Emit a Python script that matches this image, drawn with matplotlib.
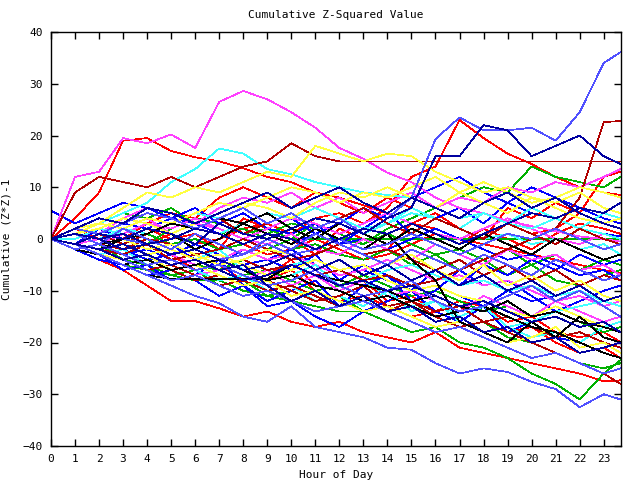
import matplotlib
matplotlib.use("Agg")
import matplotlib.pyplot as plt
import numpy as np

# hour of day for every sample (last sample is the end of the day's data)
hours = list(range(24)) + [23.7]

# cumulative (Z*Z)-1 per walk, one list per hour, grouped by line colour
red_walks = [
    [0, 4, 9, 19, 19.5, 17, 15.8, 15, 13.7, 12, 11, 9, 8, 6.5, 5, 3, 2, 0, -1, -2, -3, -4, -5, -6, -6.5],
    [0, 1, -1, 0, 2, 1, -1, 0, 2, 3, 1, 4, 5, 3, 6, 12, 14, 23, 19.5, 16.5, 14.5, 12, 10, 9, 8.5],
    [0, -2, -4, -6, -9, -12, -12, -13.4, -15, -14, -16, -17, -16, -18, -19, -20, -18, -21, -22, -23, -24, -25, -26, -27.5, -27.3],
    [0, -1, 1, 3, 2, 0, 1, -2, 4, 2, 0, -3, 2, 0, -2, 3, 5, 2, 0, 6, 4, 7, 5, 3, 2],
    [0, 2, 0, -2, -4, -3, -6, -5, -8, -7, -4, -9, -10, -8, -12, -11, -14, -12, -13, -16, -15, -18, -19, -18, -19.9],
    [0, -1, -2, 0, 3, 5, 4, 8, 10, 8, 6, 9, 7, 5, 8, 6, 4, 2, 5, 3, 1, 2, 5, 12, 13],
    [0, -1, -3, -2, -4, -6, -5, -7, -9, -8, -6, -10, -12, -11, -13, -15, -14, -13, -16, -18, -17, -20, -22, -21, -23],
    [0, 1, 2, 0, -1, 1, 3, 1, -1, -3, -2, 0, -2, -4, -3, -1, 1, -1, 2, 0, -2, 1, 3, 2, 1],
]
green_walks = [
    [0, -1, -3, -2, -4, -3, -5, -6, -4, -2, 0, 0, 0, 0, 0, 0, 0, 0, 0, 0, 0, 0, 0, 0, 0],
    [0, -1, -3, -5, -6, -7, -8, -8, -10, -11, -12, -13, -14, -14, -16, -18, -17, -20, -21, -23, -26, -28, -31, -26, -23.4],
    [0, 1, 3, 5, 4, 6, 3, 1, 2, 0, -2, -1, -3, -4, -2, -5, -3, -6, -4, -7, -5, -8, -9, -7, -6],
    [0, -1, 0, 1, -1, 2, 4, 3, 1, 2, 0, 3, 1, -1, 2, 4, 6, 8, 10, 9, 14, 12, 11, 10, 12],
    [0, -2, -1, -4, -5, -7, -6, -9, -8, -11, -10, -12, -11, -14, -13, -12, -15, -17, -16, -19, -20, -22, -24, -25, -24],
    [0, -1, 0, 2, 1, -1, 0, -2, -1, 1, 3, 2, 0, -1, 1, -1, -3, -2, -4, -2, -5, -3, -6, -4, -5],
    [0, -1, -2, -3, -5, -4, -6, -5, -7, -6, -8, -10, -9, -7, -9, -11, -10, -12, -14, -13, -15, -14, -16, -18, -17],
]
blue_walks = [
    [5.5, 3, 5, 7, 6, 4, 6, 3, 5, 2, 4, 1, 3, 6, 4, 8, 10, 12, 9, 7, 10, 8, 6, 4, 3],
    [0, -2, -3, -6, -5, -8, -7, -4, -9, -12, -10, -8, -13, -9, -7, -12, -10, -6, -9, -8, -11, -14, -12, -10, -9],
    [0, 1, -1, -3, -2, -1, -4, -2, 0, 2, 1, 3, -1, 2, 5, 1, 4, 6, 3, 7, 5, 4, 2, 1, 0.5],
    [0, -1, 2, 0, -2, -4, -3, -5, -2, -4, -6, -3, -8, -5, -7, -10, -6, -9, -5, -7, -4, -6, -3, -5, -4],
    [0, -2, -4, -5, -7, -6, -8, -11, -9, -13, -12, -15, -17, -14, -12, -10, -14, -16, -13, -18, -16, -19, -20, -22, -23],
    [0, -1, -3, -2, -4, -3, -1, -3, -5, -4, -2, -5, -7, -6, -8, -10, -9, -11, -13, -10, -12, -11, -9, -12, -11],
    [0, 2, 1, 3, 2, 4, 3, 1, 3, 1, -1, 1, -1, 0, -2, 0, 2, 0, -2, -4, -3, -5, -7, -6, -8],
]
magenta_walks = [
    [0, 12, 13, 19.5, 18.5, 20.2, 17.6, 26.5, 28.6, 27, 24.5, 21.5, 17.6, 15.5, 12.8, 11, 8, 6, 5, 3.5, 2.5, 1.5, 0.5, 0, -0.5],
    [0, 1, 3, 2, 4, 1, 3, 2, 0, -1, 1, -2, -3, 0, -2, -4, -1, -3, -5, -2, -4, -3, -6, -5, -7],
    [0, -1, -2, -4, -3, -5, -7, -6, -8, -6, -9, -7, -10, -8, -11, -10, -12, -14, -11, -13, -15, -12, -14, -16, -15],
    [0, 2, 1, 4, 6, 5, 3, 6, 8, 7, 9, 6, 8, 5, 7, 9, 6, 8, 7, 10, 9, 11, 10, 12, 13.5],
    [0, -1, 0, -2, -1, -3, -5, -4, -2, -4, -3, -5, -7, -6, -4, -6, -8, -7, -9, -8, -10, -12, -11, -13, -12],
    [0, 1, -1, 1, 3, 2, 4, 2, 0, 2, 4, 3, 1, 3, 5, 3, 1, 0, 2, 4, 2, 0, -1, 1, 0],
]
cyan_walks = [
    [0, 1, 3, 5, 7, 11, 13.5, 17.5, 16.5, 13.5, 12.5, 11, 10, 9, 8.5, 8, 6, 4, 5, 3, 2, 4, 2, 1, 0],
    [0, -1, -3, -2, -5, -4, -6, -8, -7, -10, -9, -12, -11, -13, -10, -14, -12, -15, -13, -17, -16, -14, -13, -12, -11],
    [0, 1, 0, 2, 1, 3, 5, 4, 6, 3, 5, 2, 4, 1, 3, 6, 4, 2, 5, 3, 6, 4, 2, 5, 4],
    [0, -1, -2, -1, -3, -5, -4, -2, -6, -8, -7, -5, -9, -8, -11, -13, -12, -16, -18, -17, -19, -18, -20, -17, -16],
    [0, -1, -2, -4, -3, -2, -4, -6, -5, -7, -5, -4, -6, -8, -6, -5, -7, -9, -8, -10, -9, -11, -10, -12, -13],
    [0, 0, 2, 1, -1, 0, 2, 1, 3, 5, 4, 6, 4, 2, 3, 5, 4, 2, 0, 1, -1, 0, -2, -1, -3],
]
darkred_walks = [
    [0, 9, 12, 11, 10, 12, 10, 12, 14, 15, 18.5, 16, 15, 15, 15, 15, 15, 15, 15, 15, 15, 15, 15, 15, 15],
    [0, -1, -2, -3, -1, -4, -3, -5, -4, -6, -5, -7, -6, -8, -7, -9, -8, -6, -4, -2, 0, 2, 8, 22.6, 22.8],
    [0, 2, 1, -1, 1, 3, 2, 4, 1, 3, 5, 2, 4, 6, 3, 1, 4, 2, 0, 3, 1, -1, 2, 0, -1],
    [0, -2, -3, -5, -4, -6, -8, -7, -9, -8, -10, -12, -11, -9, -13, -12, -14, -13, -16, -15, -17, -19, -18, -20, -21],
    [0, 1, -1, -2, 0, -1, -3, -2, 0, -2, -4, -3, -1, -3, -2, -4, -6, -4, -7, -5, -8, -6, -9, -7, -8],
    [0, -1, -3, -4, -6, -5, -7, -9, -8, -10, -9, -11, -13, -12, -14, -12, -15, -17, -16, -18, -20, -22, -24, -26, -28],
]
yellow_walks = [
    [0, 1, 3, 6, 9, 8, 10, 9, 11, 13, 12, 18, 16.5, 15, 16.5, 16, 13, 11, 9, 10, 8, 7, 9, 6, 5],
    [0, -1, 1, 0, -2, -1, -3, -5, -4, -2, -3, -6, -4, -7, -5, -3, -6, -8, -5, -9, -7, -10, -8, -11, -12],
    [0, 1, 2, 4, 3, 1, 3, 5, 7, 6, 4, 7, 9, 8, 10, 8, 6, 9, 7, 5, 8, 6, 4, 3, 4],
    [0, -1, -3, -4, -3, -6, -5, -7, -9, -8, -11, -10, -12, -14, -13, -15, -17, -16, -18, -20, -19, -17, -21, -20, -22],
    [0, -1, -2, -1, -3, -2, -4, -3, -5, -7, -6, -4, -6, -5, -8, -10, -9, -11, -12, -14, -15, -13, -15, -17, -18],
    [0, 2, 3, 2, 4, 3, 5, 7, 6, 8, 10, 9, 7, 9, 8, 10, 12, 9, 11, 9, 7, 8, 10, 9, 8],
]
black_walks = [
    [0, -1, -3, -5, -7, -7.7, -7.7, -7.7, -7.7, -7.7, -5, -7, -8, -9, -10, -12, -11, -13, -14, -12, -15, -14, -16, -17, -18],
    [0, 1, -1, 0, 2, 1, -2, 0, 3, 1, -1, 2, 0, -2, 1, -4, -8, -16, -18, -20, -16, -19, -15, -19, -20],
    [0, -1, -2, 0, 1, 3, 2, 4, 3, 5, 2, 0, 3, 1, -1, 2, 0, -2, 1, -1, -3, 0, -2, -4, -3],
    [0, -2, -3, -5, -4, -6, -5, -4, -6, -8, -7, -9, -10, -12, -11, -13, -15, -14, -13, -15, -17, -18, -20, -22, -23],
]
slate_walks = [
    [0, 2, 1, 3, 5, 4, 2, 4, 6, 3, 5, 2, 4, 1, 4, 8, 19.3, 23.5, 21, 21, 21.5, 19, 24.5, 34, 36.1],
    [0, -1, -3, -5, -7, -9, -11, -12.4, -15, -16, -13, -17, -18, -19, -21, -21.4, -24, -26, -25, -25.7, -27.6, -29, -32.5, -30, -31],
    [0, 1, -1, 2, 0, -2, 1, -1, -3, 0, -2, 1, -1, -3, -5, -2, -4, -6, -3, -5, -7, -4, -6, -8, -7],
    [0, -2, -1, -3, -5, -4, -6, -5, -7, -9, -8, -6, -9, -11, -10, -8, -12, -14, -13, -11, -9, -12, -10, -13, -15],
    [0, -1, 1, 0, -1, -3, -2, -4, -3, -1, -3, -2, 0, -2, -1, 1, -1, -3, -1, 1, 0, 2, 0, -2, -1],
    [0, -1, -2, -4, -6, -8, -7, -9, -11, -10, -12, -14, -13, -12, -14, -16, -18, -17, -19, -21, -23, -22, -24, -26, -25],
]
navy_walks = [
    [0, -1, 1, 0, 2, 1, -1, 3, 1, 0, 2, 4, 3, 1, 4, 6, 16, 16, 22, 21, 16, 18, 20, 16, 14.5],
    [0, 1, 0, -2, -1, -3, -2, -4, -6, -5, -3, -6, -4, -7, -5, -8, -6, -9, -7, -10, -8, -11, -9, -12, -11],
    [0, -1, -2, -4, -3, -5, -4, -6, -5, -9, -12, -10, -13, -11, -14, -13, -16, -15, -18, -17, -20, -19, -22, -21, -20],
    [0, 2, 4, 3, 6, 5, 3, 5, 7, 9, 6, 8, 10, 7, 5, 8, 6, 4, 7, 9, 6, 8, 5, 3, 2],
    [0, -1, -2, -1, -3, -5, -4, -6, -8, -7, -5, -7, -9, -8, -10, -9, -11, -13, -12, -14, -16, -15, -17, -16, -18],
    [0, 1, 0, 1, -1, 0, 2, 1, -1, 1, 0, -2, 0, 2, 1, 3, 1, -1, 1, 3, 5, 4, 6, 5, 7],
]

groups = [
    (red_walks, "#ff0000"),
    (green_walks, "#00b000"),
    (blue_walks, "#0000ff"),
    (magenta_walks, "#ff40ff"),
    (cyan_walks, "#40ffff"),
    (darkred_walks, "#b00000"),
    (yellow_walks, "#ffff40"),
    (black_walks, "#000000"),
    (slate_walks, "#5050ff"),
    (navy_walks, "#0000a0"),
]

plt.rcParams["font.family"] = "DejaVu Sans Mono"
fig = plt.figure(figsize=(6.4, 4.8), dpi=100)
ax = fig.add_axes([51 / 640, 34 / 480, 570 / 640, 414 / 480])

for walks, col in groups:
    for w in walks:
        ax.plot(hours, w, color=col, lw=0.5, antialiased=False)

ax.set_xlim(0, 23.72)
ax.set_ylim(-40, 40)
ax.set_xticks(range(24))
ax.set_yticks(range(-40, 41, 10))
ax.tick_params(direction="in", length=5, width=1, top=True, right=True, labelsize=8, pad=6)
for sp in ax.spines.values():
    sp.set_linewidth(1)
ax.set_title("Cumulative Z-Squared Value", fontsize=8, pad=10)
ax.set_xlabel("Hour of Day", fontsize=8, labelpad=4)
ax.set_ylabel("Cumulative (Z*Z)-1", fontsize=8, labelpad=8)

fig.savefig("out.png", dpi=100)
